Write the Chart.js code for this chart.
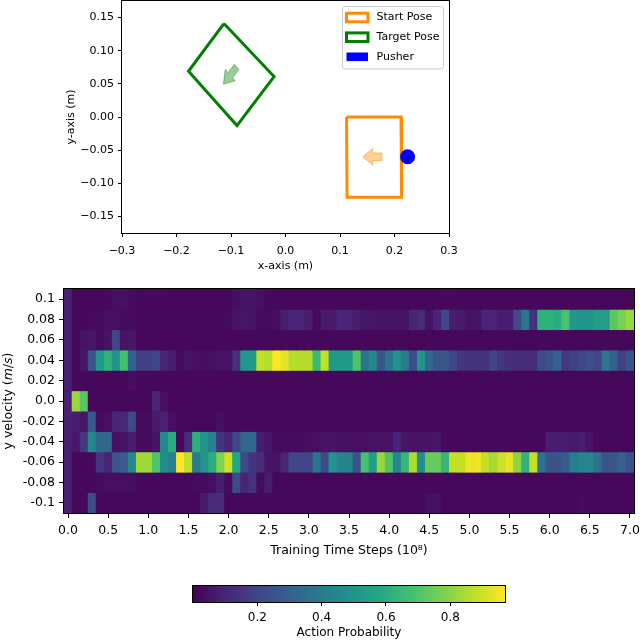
<!DOCTYPE html>
<html>
<head>
<meta charset="utf-8">
<script src="https://cdn.jsdelivr.net/npm/chart.js@4.4.1/dist/chart.umd.min.js"></script>
<style>
  body{margin:0;background:#fff;}
  #wrap{position:relative;width:640px;height:642px;background:#fff;}
  canvas{position:absolute;left:0;}
</style>
</head>
<body>
<div id="wrap">
  <canvas id="poseChart" width="640" height="280" style="top:0"></canvas>
  <canvas id="heatChart" width="640" height="290" style="top:280px"></canvas>
  <canvas id="cbarChart" width="640" height="72" style="top:570px"></canvas>
</div>
<script>
// ---- top panel: poses (metres) ----
const startPose  = [[0.112,0.0],[0.212,0.0],[0.213,-0.121],[0.113,-0.121],[0.112,0.0]];
const targetPose = [[-0.113,0.141],[-0.021,0.061],[-0.089,-0.013],[-0.178,0.069],[-0.113,0.141]];
const pusherPos  = [[0.224,-0.06]];
const startArrow = [[0.177,-0.0543],[0.160,-0.0543],[0.160,-0.0475],[0.1417,-0.06],[0.160,-0.0725],[0.160,-0.0657],[0.177,-0.0657],[0.177,-0.0543]];
const targetArrow = [[-0.0939,0.0794],[-0.1055,0.0669],[-0.1105,0.0716],[-0.1138,0.0497],[-0.0922,0.0545],[-0.0972,0.0591],[-0.0856,0.0716],[-0.0939,0.0794]];
const poseXTicks  = [-0.3,-0.2,-0.1,0,0.1,0.2,0.3];
const poseXLabels = ['\u22120.3','\u22120.2','\u22120.1','0.0','0.1','0.2','0.3'];
const poseYTicks  = [-0.15,-0.1,-0.05,0,0.05,0.1,0.15];
const poseYLabels = ['\u22120.15','\u22120.10','\u22120.05','0.00','0.05','0.10','0.15'];
const legendLabels = ['Start Pose','Target Pose','Pusher'];

// ---- bottom panel: action probability heatmap ----
const timeSteps = [0.0,0.1,0.2,0.3,0.4,0.5,0.6,0.7,0.8,0.9,
  1.0,1.1,1.2,1.3,1.4,1.5,1.6,1.7,1.8,1.9,
  2.0,2.1,2.2,2.3,2.4,2.5,2.6,2.7,2.8,2.9,
  3.0,3.1,3.2,3.3,3.4,3.5,3.6,3.7,3.8,3.9,
  4.0,4.1,4.2,4.3,4.4,4.5,4.6,4.7,4.8,4.9,
  5.0,5.1,5.2,5.3,5.4,5.5,5.6,5.7,5.8,5.9,
  6.0,6.1,6.2,6.3,6.4,6.5,6.6,6.7,6.8,6.9,
  7.0];
const velocities = [0.1,0.08,0.06,0.04,0.02,0.0,-0.02,-0.04,-0.06,-0.08,-0.1];
const velLabels  = ['0.1','0.08','0.06','0.04','0.02','0.0','-0.02','-0.04','-0.06','-0.08','-0.1'];
const timeTicks  = [0,0.5,1,1.5,2,2.5,3,3.5,4,4.5,5,5.5,6,6.5,7];
const timeLabels = ['0.0','0.5','1.0','1.5','2.0','2.5','3.0','3.5','4.0','4.5','5.0','5.5','6.0','6.5','7.0'];

const pVel010 = [0.09,0.02,0.02,0.02,0.02,0.02,0.04,0.04,0.03,0.02,
  0.02,0.02,0.02,0.02,0.02,0.02,0.02,0.02,0.02,0.02,
  0.02,0.04,0.05,0.05,0.04,0.02,0.02,0.02,0.02,0.02,
  0.02,0.02,0.02,0.02,0.02,0.02,0.02,0.02,0.02,0.02,
  0.02,0.02,0.02,0.02,0.02,0.02,0.02,0.02,0.02,0.02,
  0.02,0.02,0.02,0.02,0.02,0.02,0.02,0.02,0.02,0.02,
  0.02,0.02,0.02,0.02,0.02,0.02,0.02,0.02,0.02,0.02,
  0.02];
const pVel008 = [0.09,0.02,0.02,0.03,0.03,0.04,0.04,0.03,0.03,0.02,
  0.02,0.02,0.02,0.02,0.02,0.02,0.02,0.02,0.02,0.02,
  0.03,0.05,0.06,0.05,0.03,0.03,0.04,0.08,0.10,0.10,
  0.08,0.03,0.07,0.07,0.10,0.10,0.08,0.06,0.06,0.05,
  0.05,0.05,0.05,0.10,0.12,0.05,0.10,0.21,0.08,0.07,
  0.05,0.05,0.10,0.10,0.08,0.08,0.22,0.38,0.14,0.62,
  0.62,0.60,0.69,0.52,0.50,0.50,0.54,0.54,0.72,0.77,
  0.82];
const pVel006 = [0.09,0.02,0.05,0.06,0.03,0.05,0.20,0.05,0.06,0.02,
  0.02,0.02,0.02,0.02,0.02,0.02,0.02,0.02,0.02,0.02,
  0.02,0.02,0.02,0.02,0.02,0.02,0.02,0.02,0.02,0.02,
  0.02,0.02,0.02,0.02,0.02,0.02,0.02,0.02,0.02,0.02,
  0.02,0.02,0.02,0.02,0.02,0.02,0.02,0.02,0.02,0.02,
  0.02,0.02,0.02,0.02,0.02,0.02,0.02,0.02,0.02,0.02,
  0.02,0.02,0.02,0.02,0.02,0.02,0.02,0.02,0.02,0.02,
  0.02];
const pVel004 = [0.09,0.02,0.06,0.25,0.52,0.62,0.50,0.68,0.30,0.18,
  0.18,0.20,0.10,0.08,0.03,0.05,0.04,0.04,0.04,0.05,
  0.05,0.13,0.52,0.52,0.88,0.86,0.97,0.93,0.86,0.86,
  0.86,0.65,0.88,0.52,0.52,0.52,0.70,0.38,0.45,0.25,
  0.37,0.50,0.40,0.22,0.50,0.32,0.25,0.26,0.20,0.15,
  0.14,0.14,0.14,0.20,0.15,0.13,0.12,0.12,0.12,0.22,
  0.25,0.30,0.16,0.18,0.21,0.23,0.20,0.38,0.30,0.18,
  0.25];
const pVel002 = [0.09,0.02,0.02,0.02,0.02,0.02,0.02,0.02,0.04,0.02,
  0.02,0.02,0.02,0.02,0.02,0.02,0.02,0.02,0.02,0.02,
  0.02,0.02,0.02,0.02,0.02,0.02,0.02,0.02,0.02,0.02,
  0.02,0.02,0.02,0.02,0.02,0.02,0.02,0.02,0.02,0.02,
  0.02,0.02,0.02,0.02,0.02,0.02,0.02,0.02,0.02,0.02,
  0.02,0.02,0.02,0.02,0.02,0.02,0.02,0.02,0.02,0.02,
  0.02,0.02,0.02,0.02,0.02,0.02,0.02,0.02,0.02,0.02,
  0.02];
const pVel000 = [0.09,0.82,0.72,0.02,0.02,0.02,0.02,0.02,0.02,0.02,
  0.02,0.10,0.04,0.02,0.02,0.02,0.02,0.02,0.02,0.02,
  0.02,0.02,0.02,0.02,0.02,0.02,0.02,0.02,0.02,0.02,
  0.02,0.02,0.02,0.02,0.02,0.02,0.02,0.02,0.02,0.02,
  0.02,0.02,0.02,0.02,0.02,0.02,0.02,0.02,0.02,0.02,
  0.02,0.02,0.02,0.02,0.02,0.02,0.02,0.02,0.02,0.02,
  0.02,0.02,0.02,0.02,0.02,0.02,0.02,0.02,0.02,0.02,
  0.02];
const pVelM002 = [0.09,0.08,0.06,0.27,0.03,0.04,0.10,0.11,0.21,0.03,
  0.03,0.07,0.09,0.04,0.02,0.02,0.02,0.02,0.02,0.04,
  0.02,0.02,0.02,0.02,0.02,0.02,0.02,0.02,0.02,0.02,
  0.02,0.02,0.02,0.02,0.02,0.02,0.02,0.02,0.02,0.02,
  0.02,0.02,0.02,0.02,0.02,0.02,0.02,0.02,0.02,0.02,
  0.02,0.02,0.02,0.02,0.02,0.02,0.02,0.02,0.02,0.02,
  0.02,0.02,0.02,0.02,0.02,0.02,0.02,0.02,0.02,0.02,
  0.02];
const pVelM004 = [0.09,0.06,0.15,0.45,0.32,0.32,0.04,0.05,0.08,0.03,
  0.03,0.05,0.45,0.60,0.02,0.12,0.62,0.50,0.42,0.15,
  0.10,0.20,0.33,0.33,0.08,0.06,0.03,0.03,0.03,0.03,
  0.04,0.04,0.05,0.05,0.04,0.04,0.04,0.04,0.05,0.05,
  0.05,0.10,0.06,0.05,0.05,0.05,0.06,0.02,0.02,0.02,
  0.02,0.02,0.02,0.02,0.02,0.02,0.02,0.02,0.02,0.02,
  0.08,0.08,0.08,0.07,0.08,0.05,0.02,0.02,0.02,0.02,
  0.02];
const pVelM006 = [0.09,0.02,0.02,0.03,0.15,0.10,0.25,0.28,0.45,0.83,
  0.83,0.70,0.48,0.42,0.97,0.88,0.40,0.50,0.60,0.78,
  0.90,0.58,0.22,0.15,0.12,0.05,0.05,0.10,0.20,0.20,
  0.20,0.38,0.22,0.50,0.43,0.43,0.25,0.68,0.55,0.82,
  0.70,0.45,0.64,0.85,0.48,0.74,0.74,0.64,0.88,0.88,
  0.95,0.95,0.88,0.84,0.90,0.93,0.80,0.63,0.88,0.36,
  0.25,0.25,0.28,0.41,0.44,0.44,0.37,0.26,0.26,0.30,
  0.24];
const pVelM008 = [0.09,0.02,0.02,0.02,0.03,0.04,0.04,0.04,0.04,0.02,
  0.02,0.02,0.02,0.02,0.02,0.02,0.03,0.03,0.04,0.08,
  0.03,0.22,0.10,0.14,0.03,0.08,0.02,0.02,0.02,0.02,
  0.02,0.02,0.02,0.02,0.02,0.02,0.02,0.02,0.02,0.02,
  0.02,0.02,0.02,0.02,0.02,0.02,0.02,0.02,0.02,0.02,
  0.02,0.02,0.02,0.02,0.02,0.02,0.02,0.02,0.02,0.02,
  0.02,0.02,0.02,0.02,0.02,0.02,0.02,0.02,0.02,0.02,
  0.02];
const pVelM010 = [0.09,0.02,0.02,0.22,0.02,0.02,0.02,0.02,0.02,0.02,
  0.02,0.02,0.02,0.02,0.02,0.02,0.02,0.07,0.12,0.12,
  0.02,0.02,0.02,0.02,0.02,0.02,0.02,0.02,0.02,0.02,
  0.02,0.02,0.02,0.02,0.02,0.02,0.02,0.02,0.02,0.02,
  0.02,0.02,0.02,0.02,0.02,0.04,0.04,0.02,0.02,0.02,
  0.02,0.02,0.02,0.02,0.02,0.02,0.02,0.02,0.02,0.02,
  0.02,0.02,0.02,0.02,0.03,0.02,0.02,0.02,0.02,0.02,
  0.02];
const probRows = [pVel010,pVel008,pVel006,pVel004,pVel002,pVel000,pVelM002,pVelM004,pVelM006,pVelM008,pVelM010];

// colour scale
const probMin = 0.0, probMax = 0.97;
const cbarTicks = [0.2,0.4,0.6,0.8];
const viridisStops = [[68,1,84],[72,36,117],[65,68,135],[53,95,141],[42,120,142],[33,145,140],
  [34,168,132],[68,191,112],[122,209,81],[189,223,38],[253,231,37]];

function viridis(t){
  t = Math.max(0, Math.min(1, t));
  const n = viridisStops.length - 1;
  const p = t * n;
  const i = Math.min(n - 1, Math.floor(p));
  const f = p - i;
  const a = viridisStops[i], b = viridisStops[i + 1];
  return 'rgb(' + a.map((c, k) => Math.round(c + (b[k] - c) * f)).join(',') + ')';
}
function labelFor(vals, labels, v){
  const i = vals.findIndex(x => Math.abs(x - v) < 1e-9);
  return i < 0 ? '' : labels[i];
}
const pts = arr => arr.map(p => ({x: p[0], y: p[1]}));
// fixed axis size, no extra label padding pushed into the layout
const fixW = w => s => { s.width = w; s.paddingTop = 0; s.paddingBottom = 0; };
const fixH = h => s => { s.height = h; s.paddingLeft = 0; s.paddingRight = 0; };

Chart.defaults.font.family = "'DejaVu Sans', sans-serif";
Chart.defaults.color = '#000';
Chart.defaults.animation = false;

// matplotlib-like full box around the axes
const frame = {
  id: 'frame',
  afterDraw(chart){
    const {ctx, chartArea: a} = chart;
    ctx.save();
    ctx.strokeStyle = '#000';
    ctx.lineWidth = 1;
    ctx.strokeRect(Math.round(a.left) - 0.5, Math.round(a.top) - 0.5, Math.round(a.right - a.left) + 1, Math.round(a.bottom - a.top) + 1);
    ctx.restore();
  }
};

const poseLegend = {
  id: 'poseLegend',
  afterDraw(chart){
    const ctx = chart.ctx;
    const bx = 342.5, by = 6.5, bw = 101, bh = 62.5, r = 3;
    ctx.save();
    ctx.fillStyle = 'rgba(255,255,255,0.8)';
    ctx.strokeStyle = '#cccccc';
    ctx.lineWidth = 1;
    ctx.beginPath();
    ctx.roundRect(bx, by, bw, bh, r);
    ctx.fill(); ctx.stroke();
    const rows = [17.5, 37.2, 56.8];
    ctx.font = '11px "DejaVu Sans"';
    ctx.textBaseline = 'middle';
    ctx.textAlign = 'left';
    // start pose / target pose: outlined patches, pusher: filled
    ctx.lineWidth = 3;
    ctx.lineJoin = 'miter';
    ctx.strokeStyle = '#ff8c00';
    ctx.strokeRect(346.5, rows[0] - 4.3, 21.5, 8.6);
    ctx.strokeStyle = '#008000';
    ctx.strokeRect(346.5, rows[1] - 4.3, 21.5, 8.6);
    ctx.fillStyle = '#0000ff';
    ctx.fillRect(346.5, rows[2] - 4.3, 21.5, 8.6);
    ctx.fillStyle = '#000';
    legendLabels.forEach((t, i) => ctx.fillText(t, 376.5, rows[i]));
    ctx.restore();
  }
};

new Chart(document.getElementById('poseChart'), {
  type: 'scatter',
  data: {
    datasets: [
      {data: pts(pusherPos), pointRadius: 7.5, pointBackgroundColor: '#0000ff', pointBorderWidth: 0, showLine: false},
      {data: pts(startPose), showLine: true, borderColor: '#ff8c00', borderWidth: 3, pointRadius: 0, borderJoinStyle: 'miter', fill: false},
      {data: pts(targetPose), showLine: true, borderColor: '#008000', borderWidth: 3, pointRadius: 0, borderJoinStyle: 'miter', fill: false},
      {data: pts(startArrow), showLine: true, borderColor: 'rgba(255,140,0,0.5)', backgroundColor: 'rgba(255,140,0,0.42)', borderWidth: 1, pointRadius: 0, fill: 'shape'},
      {data: pts(targetArrow), showLine: true, borderColor: 'rgba(0,128,0,0.45)', backgroundColor: 'rgba(0,128,0,0.4)', borderWidth: 1, pointRadius: 0, fill: 'shape'}
    ]
  },
  options: {
    responsive: false,
    layout: {autoPadding: false, padding: {left: 0, right: 191, top: 1, bottom: 0}},
    plugins: {legend: {display: false}, tooltip: {enabled: false}},
    scales: {
      x: {
        type: 'linear', min: -0.3, max: 0.3,
        afterBuildTicks: s => { s.ticks = poseXTicks.map(v => ({value: v})); },
        afterFit: fixH(47),
        ticks: {callback: v => labelFor(poseXTicks, poseXLabels, v), font: {size: 11}, padding: 8, maxRotation: 0, autoSkip: false},
        grid: {drawOnChartArea: false, drawTicks: true, tickLength: 4, tickColor: '#000'},
        border: {display: false},
        title: {display: true, text: 'x-axis (m)', font: {size: 11}, padding: {top: 0, bottom: 7.4}}
      },
      y: {
        type: 'linear', min: -0.175, max: 0.175,
        afterBuildTicks: s => { s.ticks = poseYTicks.map(v => ({value: v})); },
        afterFit: fixW(122),
        ticks: {callback: v => labelFor(poseYTicks, poseYLabels, v), font: {size: 11}, padding: 4, autoSkip: false},
        grid: {drawOnChartArea: false, drawTicks: true, tickLength: 4, tickColor: '#000'},
        border: {display: false},
        title: {display: true, text: 'y-axis (m)', font: {size: 11}, padding: {top: 64.7, bottom: 0}}
      }
    }
  },
  plugins: [frame, poseLegend]
});

// heatmap
const heatBackground = {
  id: 'heatBackground',
  beforeDatasetsDraw(chart){
    const {ctx, chartArea: a} = chart;
    ctx.save();
    ctx.fillStyle = viridis(0.02 / probMax);
    ctx.fillRect(a.left, a.top, a.right - a.left, a.bottom - a.top);
    ctx.restore();
  }
};
const yVelTitle = {
  id: 'yVelTitle',
  afterDraw(chart){
    const {ctx, chartArea: a} = chart;
    const parts = [['y velocity (', 'normal'], ['m', 'italic'], ['/', 'normal'], ['s', 'italic'], [')', 'normal']];
    const fontOf = st => st + ' 12.5px "DejaVu Sans"';
    ctx.save();
    ctx.translate(9, (a.top + a.bottom) / 2);
    ctx.rotate(-Math.PI / 2);
    ctx.fillStyle = '#000';
    ctx.textBaseline = 'middle';
    ctx.textAlign = 'left';
    let total = 0;
    parts.forEach(p => { ctx.font = fontOf(p[1]); total += ctx.measureText(p[0]).width; });
    let x = -total / 2;
    parts.forEach(p => { ctx.font = fontOf(p[1]); ctx.fillText(p[0], x, 0); x += ctx.measureText(p[0]).width; });
    ctx.restore();
  }
};

const heatDatasets = velocities.map((v, r) => ({
  data: timeSteps.map(t => ({x: t, y: [v - 0.01, v + 0.01]})),
  backgroundColor: probRows[r].map(p => viridis((p - probMin) / (probMax - probMin))),
  borderWidth: 0,
  grouped: false,
  barPercentage: 1,
  categoryPercentage: 1
}));

new Chart(document.getElementById('heatChart'), {
  type: 'bar',
  data: {datasets: heatDatasets},
  options: {
    responsive: false,
    layout: {autoPadding: false, padding: {left: 0, right: 6, top: 9, bottom: 0}},
    plugins: {legend: {display: false}, tooltip: {enabled: false}},
    scales: {
      x: {
        type: 'linear', min: -0.05, max: 7.05, offset: false,
        afterBuildTicks: s => { s.ticks = timeTicks.map(v => ({value: v})); },
        afterFit: fixH(57),
        ticks: {callback: v => labelFor(timeTicks, timeLabels, v), font: {size: 12.5}, padding: 5, maxRotation: 0, autoSkip: false},
        grid: {offset: false, drawOnChartArea: false, drawTicks: true, tickLength: 5, tickColor: '#000'},
        border: {display: false},
        title: {display: true, text: 'Training Time Steps (10\u2078)', font: {size: 12.5}, padding: {top: 0, bottom: 11.5}}
      },
      y: {
        type: 'linear', min: -0.11, max: 0.11,
        afterBuildTicks: s => { s.ticks = velocities.slice().reverse().map(v => ({value: v})); },
        afterFit: fixW(64),
        ticks: {callback: v => labelFor(velocities, velLabels, v), font: {size: 12.5}, padding: 4, autoSkip: false},
        grid: {drawOnChartArea: false, drawTicks: true, tickLength: 5, tickColor: '#000'},
        border: {display: false}
      }
    }
  },
  plugins: [heatBackground, frame, yVelTitle]
});

// colour bar
new Chart(document.getElementById('cbarChart'), {
  type: 'bar',
  data: {
    labels: ['p'],
    datasets: [{
      data: [[probMin, probMax]],
      backgroundColor: ctx => {
        const a = ctx.chart.chartArea;
        if (!a) return viridis(0);
        const g = ctx.chart.ctx.createLinearGradient(a.left, 0, a.right, 0);
        viridisStops.forEach((c, i) => g.addColorStop(i / (viridisStops.length - 1), 'rgb(' + c.join(',') + ')'));
        return g;
      },
      borderWidth: 0,
      barPercentage: 1,
      categoryPercentage: 1
    }]
  },
  options: {
    responsive: false,
    indexAxis: 'y',
    layout: {autoPadding: false, padding: {left: 193, right: 135, top: 16, bottom: 0}},
    plugins: {legend: {display: false}, tooltip: {enabled: false}},
    scales: {
      y: {display: false},
      x: {
        type: 'linear', min: probMin, max: probMax,
        afterBuildTicks: s => { s.ticks = cbarTicks.map(v => ({value: v})); },
        afterFit: fixH(40),
        ticks: {callback: v => v.toFixed(1), font: {size: 12}, padding: 5, maxRotation: 0, autoSkip: false},
        grid: {drawOnChartArea: false, drawTicks: true, tickLength: 4, tickColor: '#000'},
        border: {display: false},
        title: {display: true, text: 'Action Probability', font: {size: 12}, padding: {top: 0, bottom: 1.8}}
      }
    }
  },
  plugins: [frame]
});
</script>
</body>
</html>
